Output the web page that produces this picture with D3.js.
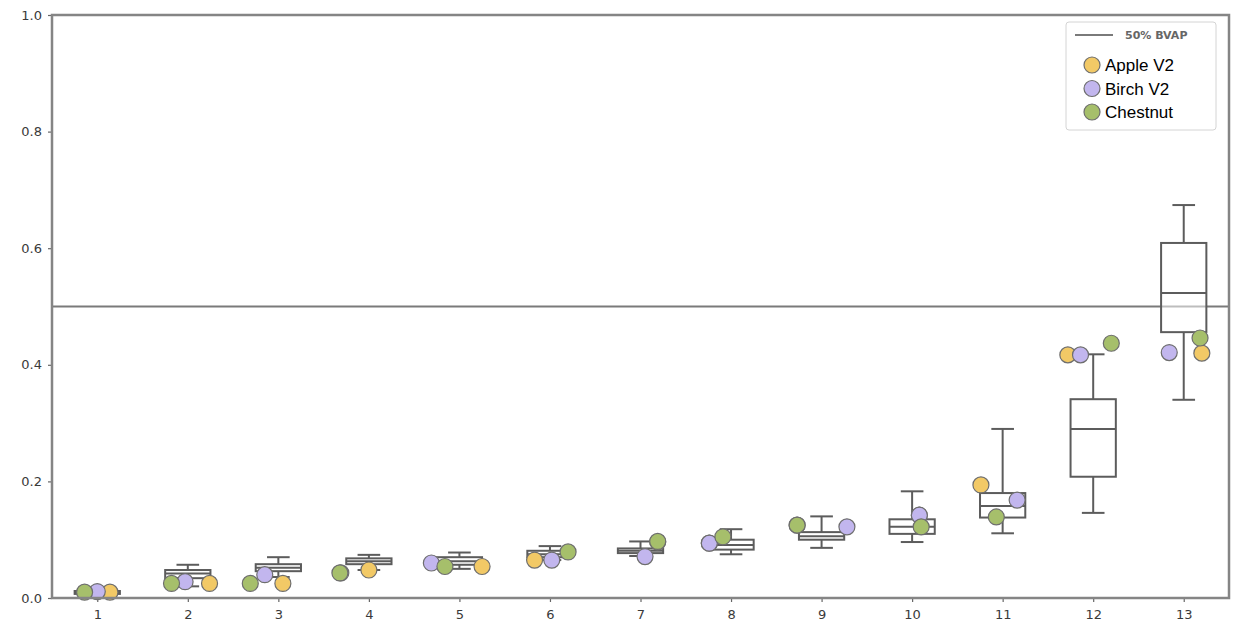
<!DOCTYPE html>
<html><head><meta charset="utf-8">
<script src="https://cdn.jsdelivr.net/npm/d3@7"></script>
<style>body{margin:0;background:#fff}svg{display:block}</style>
</head><body><svg id="c" width="1238" height="630"></svg>
<script>
const districts = [1,2,3,4,5,6,7,8,9,10,11,12,13];
const whiskLo = [0.004,0.020,0.036,0.048,0.050,0.065,0.072,0.075,0.086,0.096,0.111,0.146,0.340];
const q1      = [0.007,0.034,0.046,0.058,0.057,0.070,0.077,0.083,0.100,0.110,0.138,0.208,0.456];
const median  = [0.009,0.042,0.052,0.063,0.063,0.075,0.081,0.091,0.106,0.122,0.158,0.290,0.523];
const q3      = [0.012,0.048,0.058,0.068,0.070,0.081,0.085,0.100,0.113,0.135,0.180,0.341,0.609];
const whiskHi = [0.016,0.057,0.070,0.074,0.078,0.089,0.097,0.118,0.140,0.183,0.290,0.418,0.674];

const appleV2  = [0.010,0.025,0.025,0.048,0.054,0.065,0.096,0.094,0.125,0.142,0.194,0.417,0.420];
const birchV2  = [0.011,0.028,0.040,0.043,0.060,0.065,0.071,0.094,0.122,0.142,0.168,0.417,0.421];
const chestnut = [0.010,0.025,0.025,0.043,0.054,0.079,0.097,0.105,0.125,0.122,0.139,0.437,0.446];
const appleJit    = [0.14,0.24,0.05,0.00,0.25,-0.17,0.19,-0.24,-0.27,0.08,-0.24,-0.28,0.20];
const birchJit    = [0.00,-0.03,-0.15,-0.31,-0.31,0.02,0.05,-0.24,0.28,0.08,0.16,-0.14,-0.16];
const chestnutJit = [-0.14,-0.18,-0.31,-0.32,-0.16,0.20,0.19,-0.09,-0.27,0.10,-0.07,0.20,0.18];

const yTicks = [0,0.2,0.4,0.6,0.8,1.0];
const threshold = 0.5;
const seriesNames = ["Apple V2","Birch V2","Chestnut"];
const seriesColors = ["#f2c966","#c2b6ee","#a6bf6b"];
const lineLabel = "50% BVAP";

const svg = d3.select("#c");
const L=52, T=15, R=1229, B=598;
const x = d3.scaleLinear().domain([0.5,13.5]).range([L,R]);
const y = d3.scaleLinear().domain([0,1]).range([B,T]);
const boxW = x(1.25)-x(1), capW = x(1.125)-x(1);
const boxCol = "#5c5c5c", spine = "#858585";

// axes
const gx = svg.append("g").attr("transform",`translate(0,${B})`)
  .call(d3.axisBottom(x).tickValues(districts).tickSize(4).tickPadding(8).tickFormat(d3.format("d")));
const gy = svg.append("g").attr("transform",`translate(${L},0)`)
  .call(d3.axisLeft(y).tickValues(yTicks).tickSize(4).tickPadding(6).tickFormat(d3.format(".1f")));
[gx,gy].forEach(g=>{
  g.select(".domain").remove();
  g.selectAll("line").attr("stroke","#666").attr("stroke-width",1.2);
  g.selectAll("text").attr("fill","#3a3a3a").style("font-family","DejaVu Sans").style("font-size","13px");
});

// threshold line
svg.append("line").attr("x1",L).attr("x2",R).attr("y1",y(threshold)).attr("y2",y(threshold))
  .attr("stroke","#7a7a7a").attr("stroke-width",2);

// boxes
const bg = svg.append("g");
districts.forEach((d,i)=>{
  const cx = x(d);
  const g = bg.append("g").attr("stroke",boxCol).attr("stroke-width",2).attr("fill","none");
  g.append("line").attr("x1",cx).attr("x2",cx).attr("y1",y(q3[i])).attr("y2",y(whiskHi[i]));
  g.append("line").attr("x1",cx).attr("x2",cx).attr("y1",y(q1[i])).attr("y2",y(whiskLo[i]));
  g.append("line").attr("x1",cx-capW).attr("x2",cx+capW).attr("y1",y(whiskHi[i])).attr("y2",y(whiskHi[i]));
  g.append("line").attr("x1",cx-capW).attr("x2",cx+capW).attr("y1",y(whiskLo[i])).attr("y2",y(whiskLo[i]));
  g.append("rect").attr("x",cx-boxW).attr("y",y(q3[i])).attr("width",2*boxW).attr("height",y(q1[i])-y(q3[i]))
    .attr("fill","#fff").attr("fill-opacity",0.5);
  g.append("line").attr("x1",cx-boxW).attr("x2",cx+boxW).attr("y1",y(median[i])).attr("y2",y(median[i]));
});

// points
const series = [[appleV2,appleJit],[birchV2,birchJit],[chestnut,chestnutJit]];
const pg = svg.append("g");
series.forEach(([vals,jit],s)=>{
  pg.selectAll(null).data(districts).enter().append("circle")
    .attr("cx",(d,i)=>x(d+jit[i])).attr("cy",(d,i)=>y(vals[i])).attr("r",8)
    .attr("fill",seriesColors[s])
    .attr("stroke","#6e6e6e").attr("stroke-width",1.2);
});

// spines
svg.append("rect").attr("x",L).attr("y",T).attr("width",R-L).attr("height",B-T)
  .attr("fill","none").attr("stroke",spine).attr("stroke-width",2.5);

// legend
const lg = svg.append("g").attr("transform","translate(1066,22)");
lg.append("rect").attr("width",150).attr("height",108).attr("rx",3)
  .attr("fill","#fff").attr("fill-opacity",0.85).attr("stroke","#d4d4d4").attr("stroke-width",1);
lg.append("line").attr("x1",9).attr("x2",47).attr("y1",13).attr("y2",13).attr("stroke","#7a7a7a").attr("stroke-width",2);
lg.append("text").attr("x",59).attr("y",17).text(lineLabel)
  .attr("fill","#666").style("font-family","DejaVu Sans").style("font-size","11px").style("font-weight","bold");
seriesNames.forEach((n,k)=>{
  const yy = 43 + k*23.5;
  lg.append("circle").attr("cx",26).attr("cy",yy).attr("r",8)
    .attr("fill",seriesColors[k]).attr("stroke","#6e6e6e").attr("stroke-width",1.2);
  lg.append("text").attr("x",39).attr("y",yy+6).text(n)
    .attr("fill","#000").style("font-family","Liberation Sans").style("font-size","17px");
});
</script></body></html>
